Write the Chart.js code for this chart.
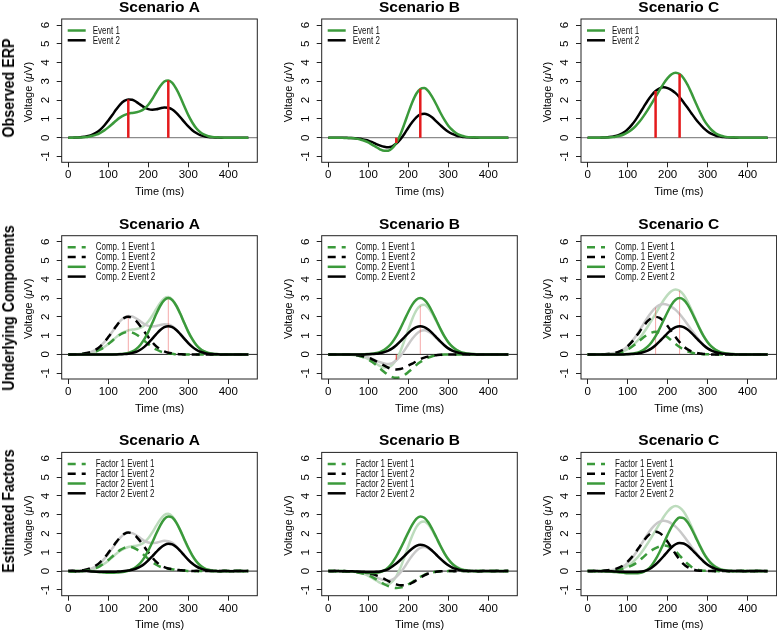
<!DOCTYPE html>
<html>
<head>
<meta charset="utf-8">
<script src="https://cdn.jsdelivr.net/npm/chart.js@4.4.1/dist/chart.umd.min.js"></script>
<style>
html,body{margin:0;padding:0;background:#fff;}
body{width:777px;height:633px;position:relative;overflow:hidden;font-family:'Liberation Sans',Arial,Helvetica,sans-serif;}
canvas{position:absolute;}
.rowlab{position:absolute;width:300px;height:18px;line-height:18px;text-align:center;font-weight:bold;font-size:16px;color:#000;transform:rotate(-90deg) scaleX(0.89);white-space:nowrap;}
</style>
</head>
<body>
<script>
// ---------- categories / labels ----------
const scenarios = ['Scenario A', 'Scenario B', 'Scenario C'];
const rowLabels = ['Observed ERP', 'Underlying Components', 'Estimated Factors'];
const obsLegend = ['Event 1', 'Event 2'];
const compLegend = ['Comp. 1 Event 1', 'Comp. 1 Event 2', 'Comp. 2 Event 1', 'Comp. 2 Event 2'];
const factLegend = ['Factor 1 Event 1', 'Factor 1 Event 2', 'Factor 2 Event 1', 'Factor 2 Event 2'];
const xTitle = 'Time (ms)';
const yTitleParts = ['Voltage (', 'μ', 'V)'];
const xTickValues = [0, 100, 200, 300, 400];
const yTickValues = [-1, 0, 1, 2, 3, 4, 5, 6];

// ---------- time grid (ms) ----------
const times = [0,10,20,30,40,50,60,70,80,90,100,110,120,130,140,150,160,170,180,190,200,210,220,230,240,250,260,270,280,290,300,310,320,330,340,350,360,370,380,390,400,410,420,430,440,450];

// ---------- observed ERPs ----------
const obsA_E1 = [0,0,0.01,0.01,0.03,0.05,0.10,0.16,0.26,0.39,
  0.55,0.73,0.92,1.08,1.20,1.28,1.32,1.35,1.41,1.54,
  1.75,2.06,2.42,2.75,2.99,3.05,2.92,2.60,2.17,1.67,
  1.20,0.81,0.50,0.29,0.16,0.08,0.04,0.02,0.01,0,
  0,0,0,0,0,0];
const obsA_E2 = [0,0,0.01,0.02,0.05,0.09,0.16,0.27,0.43,0.65,
  0.92,1.21,1.51,1.78,1.96,2.04,2.02,1.91,1.76,1.61,
  1.52,1.49,1.51,1.57,1.61,1.59,1.50,1.32,1.09,0.84,
  0.60,0.40,0.25,0.14,0.08,0.04,0.02,0.01,0,0,
  0,0,0,0,0,0];
const obsB_E1 = [0,0,0,0,-0.01,-0.01,-0.03,-0.05,-0.10,-0.16,
  -0.25,-0.38,-0.50,-0.63,-0.70,-0.69,-0.56,-0.28,0.16,0.72,
  1.32,1.89,2.34,2.59,2.64,2.48,2.16,1.77,1.34,0.96,
  0.64,0.41,0.24,0.13,0.07,0.03,0.02,0.01,0,0,
  0,0,0,0,0,0];
const obsB_E2 = [0,0,0,0,0,-0.01,-0.02,-0.04,-0.06,-0.11,
  -0.16,-0.24,-0.34,-0.42,-0.48,-0.51,-0.46,-0.31,-0.09,0.20,
  0.53,0.83,1.08,1.24,1.28,1.21,1.07,0.87,0.67,0.48,
  0.32,0.20,0.12,0.07,0.03,0.02,0.01,0,0,0,
  0,0,0,0,0,0];
const obsC_E1 = [0,0,0,0,0.01,0.01,0.03,0.05,0.10,0.17,
  0.28,0.42,0.62,0.86,1.15,1.47,1.81,2.17,2.53,2.88,
  3.17,3.38,3.46,3.39,3.17,2.81,2.36,1.87,1.40,0.98,
  0.66,0.41,0.24,0.13,0.07,0.03,0.02,0.01,0,0,
  0,0,0,0,0,0];
const obsC_E2 = [0,0,0,0,0.01,0.02,0.05,0.09,0.16,0.27,
  0.44,0.67,0.95,1.28,1.63,1.97,2.26,2.49,2.63,2.68,
  2.64,2.53,2.37,2.15,1.88,1.59,1.29,1.00,0.74,0.51,
  0.33,0.20,0.12,0.07,0.03,0.02,0.01,0,0,0,
  0,0,0,0,0,0];

// ---------- peak latency markers ----------
const peakA_X = [150, 250], peakA_Y = [2.04, 3.05];
const peakB_X = [170, 230], peakB_Y = [-0.28, 2.59];
const peakC_X = [170, 230], peakC_Y = [2.49, 3.39];

// ---------- underlying components ----------
const compA_1E1 = [0,0,0.01,0.01,0.03,0.05,0.10,0.16,0.26,0.39,
  0.55,0.73,0.91,1.06,1.16,1.20,1.16,1.06,0.91,0.73,
  0.55,0.39,0.26,0.16,0.10,0.05,0.03,0.01,0.01,0,
  0,0,0,0,0,0,0,0,0,0,
  0,0,0,0,0,0];
const compA_1E2 = [0,0,0.01,0.02,0.05,0.09,0.16,0.27,0.43,0.65,
  0.92,1.21,1.51,1.77,1.94,2.00,1.94,1.77,1.51,1.21,
  0.92,0.65,0.43,0.27,0.16,0.09,0.05,0.02,0.01,0,
  0,0,0,0,0,0,0,0,0,0,
  0,0,0,0,0,0];
const compA_2E1 = [0,0,0,0,0,0,0,0,0,0,
  0,0,0.01,0.02,0.04,0.08,0.16,0.29,0.50,0.81,
  1.20,1.67,2.16,2.59,2.89,3.00,2.89,2.59,2.16,1.67,
  1.20,0.81,0.50,0.29,0.16,0.08,0.04,0.02,0.01,0,
  0,0,0,0,0,0];
const compA_2E2 = [0,0,0,0,0,0,0,0,0,0,
  0,0,0,0.01,0.02,0.04,0.08,0.14,0.25,0.40,
  0.60,0.84,1.08,1.30,1.45,1.50,1.45,1.30,1.08,0.84,
  0.60,0.40,0.25,0.14,0.08,0.04,0.02,0.01,0,0,
  0,0,0,0,0,0];
const compB_1E1 = [0,0,0,0,-0.01,-0.01,-0.03,-0.05,-0.10,-0.17,
  -0.27,-0.41,-0.57,-0.76,-0.94,-1.10,-1.21,-1.25,-1.21,-1.10,
  -0.94,-0.76,-0.57,-0.41,-0.27,-0.17,-0.10,-0.05,-0.03,-0.01,
  -0.01,0,0,0,0,0,0,0,0,0,
  0,0,0,0,0,0];
const compB_1E2 = [0,0,0,0,0,-0.01,-0.02,-0.04,-0.06,-0.11,
  -0.17,-0.26,-0.37,-0.49,-0.60,-0.71,-0.78,-0.80,-0.78,-0.71,
  -0.60,-0.49,-0.37,-0.26,-0.17,-0.11,-0.06,-0.04,-0.02,-0.01,
  0,0,0,0,0,0,0,0,0,0,
  0,0,0,0,0,0];
const compB_2E1 = [0,0,0,0,0,0,0,0,0,0.01,
  0.02,0.03,0.07,0.13,0.24,0.41,0.65,0.97,1.37,1.82,
  2.26,2.65,2.91,3.00,2.91,2.65,2.26,1.82,1.37,0.97,
  0.65,0.41,0.24,0.13,0.07,0.03,0.02,0.01,0,0,
  0,0,0,0,0,0];
const compB_2E2 = [0,0,0,0,0,0,0,0,0,0,
  0.01,0.02,0.03,0.07,0.12,0.20,0.32,0.49,0.69,0.91,
  1.13,1.32,1.45,1.50,1.45,1.32,1.13,0.91,0.69,0.49,
  0.32,0.20,0.12,0.07,0.03,0.02,0.01,0,0,0,
  0,0,0,0,0,0];
const compC_1E1 = [0,0,0,0,0.01,0.01,0.03,0.05,0.10,0.16,
  0.26,0.39,0.55,0.73,0.91,1.06,1.16,1.20,1.16,1.06,
  0.91,0.73,0.55,0.39,0.26,0.16,0.10,0.05,0.03,0.01,
  0.01,0,0,0,0,0,0,0,0,0,
  0,0,0,0,0,0];
const compC_1E2 = [0,0,0,0,0.01,0.02,0.05,0.09,0.16,0.27,
  0.43,0.65,0.92,1.21,1.51,1.77,1.94,2.00,1.94,1.77,
  1.51,1.21,0.92,0.65,0.43,0.27,0.16,0.09,0.05,0.02,
  0.01,0,0,0,0,0,0,0,0,0,
  0,0,0,0,0,0];
const compC_2E1 = [0,0,0,0,0,0,0,0,0,0.01,
  0.02,0.03,0.07,0.13,0.24,0.41,0.65,0.97,1.37,1.82,
  2.26,2.65,2.91,3.00,2.91,2.65,2.26,1.82,1.37,0.97,
  0.65,0.41,0.24,0.13,0.07,0.03,0.02,0.01,0,0,
  0,0,0,0,0,0];
const compC_2E2 = [0,0,0,0,0,0,0,0,0,0,
  0.01,0.02,0.03,0.07,0.12,0.20,0.32,0.49,0.69,0.91,
  1.13,1.32,1.45,1.50,1.45,1.32,1.13,0.91,0.69,0.49,
  0.32,0.20,0.12,0.07,0.03,0.02,0.01,0,0,0,
  0,0,0,0,0,0];

// ---------- estimated factors ----------
const factA_1E1 = [0.01,-0.02,0.01,0.00,0.03,0.07,0.10,0.17,0.28,0.42,
  0.59,0.78,0.97,1.13,1.24,1.29,1.27,1.17,1.02,0.84,
  0.65,0.48,0.34,0.23,0.17,0.13,0.10,0.06,0.04,0.03,
  0.01,0.02,-0.01,0.01,0.00,0.02,-0.01,0.01,0.00,0.02,
  -0.01,0.01,0.00,0.02,-0.01,0.01];
const factA_1E2 = [0.00,0.02,-0.01,0.03,0.06,0.11,0.19,0.31,0.48,0.70,
  0.97,1.26,1.55,1.80,1.98,2.05,2.00,1.84,1.59,1.30,
  1.00,0.72,0.49,0.32,0.21,0.14,0.10,0.07,0.05,0.03,
  0.02,0.00,0.02,-0.01,0.01,0.00,0.02,-0.01,0.01,0.00,
  0.01,-0.01,0.01,0.00,0.01,0.00];
const factA_2E1 = [0.00,-0.02,0.01,-0.01,0.00,0.03,-0.02,-0.04,-0.06,-0.08,
  -0.09,-0.09,-0.08,-0.06,-0.03,0.02,0.10,0.23,0.43,0.72,
  1.09,1.53,2.00,2.44,2.77,2.91,2.85,2.58,2.17,1.70,
  1.24,0.84,0.52,0.30,0.15,0.07,0.02,0.00,-0.02,0.01,
  0.00,-0.01,0.02,0.00,-0.01,0.01];
const factA_2E2 = [0.00,0.01,-0.01,0.00,0.01,-0.01,-0.02,-0.03,-0.03,-0.04,
  -0.04,-0.04,-0.03,-0.02,0.00,0.03,0.07,0.14,0.24,0.38,
  0.57,0.79,1.02,1.23,1.38,1.45,1.42,1.28,1.07,0.83,
  0.60,0.40,0.25,0.14,0.07,0.03,0.01,0.00,-0.01,0.01,
  0.00,-0.01,0.01,0.00,0.00,0.01];
const factB_1E1 = [0.00,0.01,-0.01,0.00,-0.02,-0.02,-0.04,-0.06,-0.10,-0.15,
  -0.22,-0.32,-0.44,-0.57,-0.70,-0.80,-0.87,-0.90,-0.88,-0.82,
  -0.71,-0.58,-0.44,-0.31,-0.20,-0.12,-0.07,-0.04,-0.02,-0.01,
  0.00,0.01,-0.01,0.00,0.01,-0.01,0.00,0.01,0.00,-0.01,
  0.01,0.00,0.01,-0.01,0.00,0.01];
const factB_1E2 = [0.00,-0.01,0.01,0.00,-0.01,-0.01,-0.02,-0.03,-0.05,-0.07,
  -0.11,-0.16,-0.23,-0.32,-0.42,-0.53,-0.63,-0.71,-0.76,-0.76,
  -0.71,-0.62,-0.49,-0.35,-0.23,-0.13,-0.07,-0.03,-0.01,0.00,
  0.01,0.00,-0.01,0.01,0.00,0.00,0.01,-0.01,0.00,0.01,
  0.00,-0.01,0.00,0.01,0.00,0.00];
const factB_2E1 = [0.00,0.01,-0.01,0.01,0.00,-0.01,-0.02,-0.04,-0.06,-0.08,
  -0.10,-0.10,-0.09,-0.05,0.04,0.20,0.45,0.78,1.18,1.62,
  2.06,2.47,2.78,2.91,2.84,2.60,2.23,1.80,1.36,0.96,
  0.63,0.38,0.21,0.10,0.04,0.01,0.00,-0.01,0.01,0.00,
  -0.01,0.01,0.00,0.01,-0.01,0.01];
const factB_2E2 = [0.00,0.00,0.01,-0.01,0.00,-0.01,-0.01,-0.02,-0.03,-0.04,
  -0.05,-0.05,-0.04,-0.02,0.03,0.11,0.24,0.40,0.59,0.80,
  1.01,1.20,1.34,1.40,1.37,1.26,1.08,0.87,0.66,0.47,
  0.31,0.19,0.11,0.05,0.02,0.01,0.00,0.00,-0.01,0.01,
  0.00,0.00,0.01,-0.01,0.00,0.00];
const factC_1E1 = [0.00,0.01,-0.01,0.00,0.01,0.02,0.03,0.05,0.09,0.14,
  0.20,0.29,0.41,0.57,0.76,0.95,1.10,1.22,1.31,1.36,
  1.34,1.24,1.06,0.83,0.60,0.39,0.22,0.11,0.05,0.02,
  0.01,0.00,0.01,-0.01,0.00,0.01,0.00,-0.01,0.01,0.00,
  0.01,-0.01,0.00,0.01,0.00,0.01];
const factC_1E2 = [0.00,-0.01,0.01,0.00,0.02,0.04,0.07,0.12,0.20,0.32,
  0.50,0.73,1.00,1.30,1.60,1.86,2.04,2.10,2.03,1.84,
  1.56,1.24,0.91,0.61,0.37,0.21,0.11,0.05,0.02,0.01,
  0.00,0.01,-0.01,0.00,0.01,0.00,-0.01,0.01,0.00,0.00,
  0.01,-0.01,0.00,0.01,0.00,0.00];
const factC_2E1 = [0.00,0.01,-0.01,0.00,-0.01,-0.02,-0.03,-0.05,-0.07,-0.09,
  -0.11,-0.12,-0.12,-0.10,-0.04,0.08,0.30,0.62,1.02,1.47,
  1.93,2.35,2.68,2.85,2.82,2.60,2.24,1.81,1.37,0.96,
  0.63,0.38,0.21,0.10,0.04,0.01,0.00,-0.01,0.01,0.00,
  -0.01,0.01,0.00,0.00,-0.01,0.01];
const factC_2E2 = [0.00,0.00,0.01,-0.01,0.00,-0.01,-0.01,-0.02,-0.03,-0.04,
  -0.05,-0.05,-0.05,-0.04,-0.01,0.06,0.18,0.35,0.56,0.79,
  1.04,1.27,1.43,1.50,1.47,1.35,1.16,0.94,0.72,0.51,
  0.34,0.21,0.12,0.06,0.03,0.01,0.00,0.00,0.01,-0.01,
  0.00,0.00,0.01,0.00,0.00,-0.01];

// ---------- grouping ----------
const obsSets = [[obsA_E1, obsA_E2], [obsB_E1, obsB_E2], [obsC_E1, obsC_E2]];
const compSets = [[compA_1E1, compA_1E2, compA_2E1, compA_2E2], [compB_1E1, compB_1E2, compB_2E1, compB_2E2], [compC_1E1, compC_1E2, compC_2E1, compC_2E2]];
const factSets = [[factA_1E1, factA_1E2, factA_2E1, factA_2E2], [factB_1E1, factB_1E2, factB_2E1, factB_2E2], [factC_1E1, factC_1E2, factC_2E1, factC_2E2]];
const peakXs = [peakA_X, peakB_X, peakC_X];
const peakYs = [peakA_Y, peakB_Y, peakC_Y];

// ---------- styling / layout ----------
const FONT = "'Liberation Sans', Arial, Helvetica, sans-serif";
const GREEN = '#3b9a3b', BLACK = '#000000', RED = '#e41a1c', PINK = 'rgba(228,26,28,0.38)';
const LGREEN = '#bddcbd', LGRAY = '#c9c9c9';
const LW = 2.5, DASH = [8, 6];
const BOX_LEFT = [61.7, 321.7, 581.0], CANVAS_LEFT = [1, 261, 521], CANVAS_W = [258, 258, 256];
const BOX_TOP = [19, 235.7, 452.4], CANVAS_TOP = [0, 216, 433], CANVAS_H = 200;
const BOX_W = 195.6, BOX_H = 143.3;
const ROW_LABEL_Y = [88, 308, 511];

function pts(vals) { return vals.map((v, i) => ({ x: times[i], y: v })); }
function curve(vals, color, dash) {
  return { data: pts(vals), borderColor: color, borderWidth: LW, borderDash: dash || [], pointRadius: 0,
    fill: false, cubicInterpolationMode: 'monotone', borderCapStyle: 'butt', borderJoinStyle: 'round' };
}
function vline(x, y, color, w) {
  return { data: [{ x: x, y: 0 }, { x: x, y: y }], borderColor: color, borderWidth: w, pointRadius: 0,
    fill: false, tension: 0, borderCapStyle: 'butt' };
}

const decor = {
  id: 'decor',
  beforeDatasetsDraw(chart, args, o) {
    const ctx = chart.ctx, a = chart.chartArea;
    const y0 = chart.scales.y.getPixelForValue(0);
    ctx.save();
    ctx.strokeStyle = o.zeroColor; ctx.lineWidth = o.zeroWidth;
    ctx.beginPath(); ctx.moveTo(a.left, y0); ctx.lineTo(a.right, y0); ctx.stroke();
    ctx.restore();
  },
  afterDraw(chart, args, o) {
    const ctx = chart.ctx, a = chart.chartArea;
    const cx = (a.left + a.right) / 2, cy = (a.top + a.bottom) / 2;
    ctx.save();
    ctx.setLineDash([]);
    ctx.strokeStyle = '#222'; ctx.lineWidth = 1;
    ctx.strokeRect(a.left, a.top, a.right - a.left, a.bottom - a.top);
    ctx.fillStyle = '#000';
    ctx.textAlign = 'center'; ctx.textBaseline = 'alphabetic';
    ctx.font = 'bold 15.5px ' + FONT;
    ctx.fillText(o.title, cx, a.top - 7);
    ctx.font = '11px ' + FONT;
    ctx.fillText(xTitle, cx, a.bottom + 32.5);
    // y title with italic mu
    ctx.save();
    ctx.translate(a.left - 33, cy + 1.5);
    ctx.rotate(-Math.PI / 2);
    const fonts = ['11px ' + FONT, 'italic 11px ' + FONT, '11px ' + FONT];
    let total = 0; const ws = [];
    yTitleParts.forEach((t, i) => { ctx.font = fonts[i]; const w = ctx.measureText(t).width; ws.push(w); total += w; });
    let x = -total / 2;
    ctx.textAlign = 'left'; ctx.textBaseline = 'middle';
    yTitleParts.forEach((t, i) => { ctx.font = fonts[i]; ctx.fillText(t, x, 0); x += ws[i]; });
    ctx.restore();
    // legend
    o.legend.forEach((it, i) => {
      const yy = a.top + 11.5 + i * 9.8;
      ctx.strokeStyle = it.color; ctx.lineWidth = LW; ctx.lineCap = 'butt';
      ctx.setLineDash(it.dash || []);
      ctx.beginPath(); ctx.moveTo(a.left + 6, yy); ctx.lineTo(a.left + 24, yy); ctx.stroke();
      ctx.setLineDash([]);
      ctx.save();
      ctx.translate(a.left + o.legendTextX, yy);
      ctx.scale(0.8, 1);
      ctx.fillStyle = '#111'; ctx.font = '10px ' + FONT; ctx.textAlign = 'left'; ctx.textBaseline = 'middle';
      ctx.fillText(it.label, 0, 0.5);
      ctx.restore();
    });
    ctx.restore();
  }
};

function makePanel(r, c) {
  const cv = document.createElement('canvas');
  cv.width = CANVAS_W[c]; cv.height = CANVAS_H;
  cv.style.left = CANVAS_LEFT[c] + 'px'; cv.style.top = CANVAS_TOP[r] + 'px';
  cv.style.width = CANVAS_W[c] + 'px'; cv.style.height = CANVAS_H + 'px';
  document.body.appendChild(cv);
  const yW = BOX_LEFT[c] - CANVAS_LEFT[c];
  const padTop = BOX_TOP[r] - CANVAS_TOP[r];
  const padRight = CANVAS_W[c] - yW - BOX_W;
  const xH = CANVAS_H - padTop - BOX_H;

  let datasets, legend, zeroColor, zeroWidth, legendTextX;
  if (r === 0) {
    const [e1, e2] = obsSets[c];
    datasets = [
      vline(peakXs[c][0], peakYs[c][0], RED, 2.5),
      vline(peakXs[c][1], peakYs[c][1], RED, 2.5),
      curve(e1, GREEN), curve(e2, BLACK)
    ];
    legend = [{ label: obsLegend[0], color: GREEN }, { label: obsLegend[1], color: BLACK }];
    zeroColor = '#8c8c8c'; zeroWidth = 1.3; legendTextX = 31;
  } else {
    const set = r === 1 ? compSets[c] : factSets[c];
    const labels = r === 1 ? compLegend : factLegend;
    const [e1, e2] = obsSets[c];
    datasets = [
      curve(set[3], BLACK), curve(set[2], GREEN),
      curve(set[1], BLACK, DASH), curve(set[0], GREEN, DASH)
    ];
    if (r === 1) {
      datasets.push(vline(peakXs[c][0], peakYs[c][0], PINK, 1));
      datasets.push(vline(peakXs[c][1], peakYs[c][1], PINK, 1));
    }
    datasets.push(curve(e2, LGRAY), curve(e1, LGREEN));
    legend = [
      { label: labels[0], color: GREEN, dash: DASH }, { label: labels[1], color: BLACK, dash: DASH },
      { label: labels[2], color: GREEN }, { label: labels[3], color: BLACK }
    ];
    zeroColor = '#222'; zeroWidth = 1; legendTextX = 34;
  }

  new Chart(cv, {
    type: 'line',
    data: { datasets },
    plugins: [decor],
    options: {
      responsive: false, animation: false, devicePixelRatio: 1, events: [],
      layout: { autoPadding: false, padding: { left: 0, top: padTop, right: padRight, bottom: 0 } },
      plugins: {
        legend: { display: false }, tooltip: { enabled: false },
        decor: { title: scenarios[c], legend, zeroColor, zeroWidth, legendTextX }
      },
      scales: {
        x: {
          type: 'linear', min: -16.5, max: 472.5,
          afterBuildTicks: s => { s.ticks = xTickValues.map(v => ({ value: v })); },
          afterFit: s => { s.height = xH; },
          grid: { display: true, drawOnChartArea: false, drawTicks: true, tickLength: 5, color: '#222', tickColor: '#222', lineWidth: 1 },
          border: { display: false },
          ticks: { autoSkip: false, maxRotation: 0, minRotation: 0, padding: 1, color: '#000', font: { family: FONT, size: 11.5 } }
        },
        y: {
          type: 'linear', min: -1.31, max: 6.32,
          afterBuildTicks: s => { s.ticks = yTickValues.map(v => ({ value: v })); },
          afterFit: s => { s.width = yW; },
          grid: { display: true, drawOnChartArea: false, drawTicks: true, tickLength: 5, color: '#222', tickColor: '#222', lineWidth: 1 },
          border: { display: false },
          ticks: { autoSkip: false, minRotation: 90, maxRotation: 90, crossAlign: 'center', padding: 6, color: '#000', font: { family: FONT, size: 11.5 } }
        }
      }
    }
  });
}

for (let r = 0; r < 3; r++) {
  for (let c = 0; c < 3; c++) makePanel(r, c);
  const d = document.createElement('div');
  d.className = 'rowlab';
  d.textContent = rowLabels[r];
  d.style.left = (9.3 - 150) + 'px';
  d.style.top = (ROW_LABEL_Y[r] - 9) + 'px';
  document.body.appendChild(d);
}
</script>
</body>
</html>
